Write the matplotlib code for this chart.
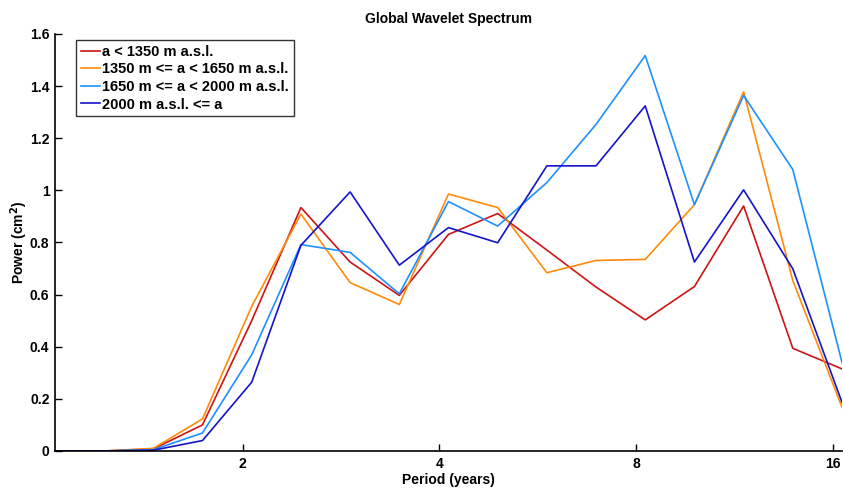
import matplotlib
matplotlib.use("Agg")
import matplotlib.pyplot as plt

plt.rcParams['font.family'] = ['Liberation Sans', 'DejaVu Sans']
plt.rcParams['font.weight'] = 'bold'

# periods (years), wavelet scales
period = [1.033, 1.228, 1.461, 1.737, 2.066, 2.457, 2.922, 3.475, 4.132,
          4.914, 5.844, 6.949, 8.264, 9.828, 11.687, 13.898, 16.528]

low = [0, 0, 0.008, 0.100, 0.50, 0.934, 0.725, 0.597, 0.831,
       0.911, 0.771, 0.629, 0.503, 0.631, 0.940, 0.394, 0.315]
mid = [0, 0, 0.010, 0.123, 0.555, 0.909, 0.646, 0.562, 0.986,
       0.934, 0.684, 0.731, 0.735, 0.945, 1.378, 0.654, 0.168]
high = [0, 0, 0.005, 0.069, 0.369, 0.792, 0.762, 0.603, 0.957,
        0.863, 1.030, 1.253, 1.517, 0.945, 1.364, 1.080, 0.340]
top = [0, 0, 0.003, 0.040, 0.264, 0.789, 0.994, 0.713, 0.857,
       0.799, 1.094, 1.094, 1.324, 0.725, 1.002, 0.699, 0.187]

labels = ['a < 1350 m a.s.l.', '1350 m <= a < 1650 m a.s.l.',
          '1650 m <= a < 2000 m a.s.l.', '2000 m a.s.l. <= a']
colors = ['#cc1414', '#ff8a0a', '#1e90ff', '#1414c8']

fig = plt.figure(figsize=(8.43, 4.91), dpi=100)
ax = fig.add_axes([0.0652, 0.0815, 0.9336, 0.8493])

for y, lab, c in zip([low, mid, high, top], labels, colors):
    ax.plot(period, y, color=c, lw=1.2, label=lab)

ax.set_xscale('log', base=2)
ax.set_xlim(period[0], period[-1])
ax.set_ylim(0, 1.6)
ax.set_xticks([2, 4, 8, 16])
ax.set_xticklabels(['2', '4', '8', '16'])
ax.minorticks_off()
yt = [0, 0.2, 0.4, 0.6, 0.8, 1.0, 1.2, 1.4, 1.6]
ax.set_yticks(yt)
ax.set_yticklabels(['0', '0.2', '0.4', '0.6', '0.8', '1', '1.2', '1.4', '1.6'])
ax.tick_params(direction='in', length=5, width=1, labelsize=10, pad=4)

for s in ['top', 'right']:
    ax.spines[s].set_visible(False)
for s in ['left', 'bottom']:
    ax.spines[s].set_linewidth(1.2)

ax.set_title('Global Wavelet Spectrum', fontsize=10, fontweight='bold', pad=8)
ax.set_xlabel('Period (years)', fontsize=10, fontweight='bold', labelpad=2)
ax.set_ylabel('Power (cm$^\\mathbf{2}$)', fontsize=10, fontweight='bold', labelpad=0)

leg = ax.legend(loc='upper left', bbox_to_anchor=(0.027, 0.985), fontsize=10.5,
                frameon=True, fancybox=False, handlelength=1.3,
                handletextpad=0.2, borderpad=0.3, labelspacing=0.25,
                borderaxespad=0)
leg.get_frame().set_edgecolor('black')
leg.get_frame().set_linewidth(1.0)

fig.savefig('out.png', dpi=100)
